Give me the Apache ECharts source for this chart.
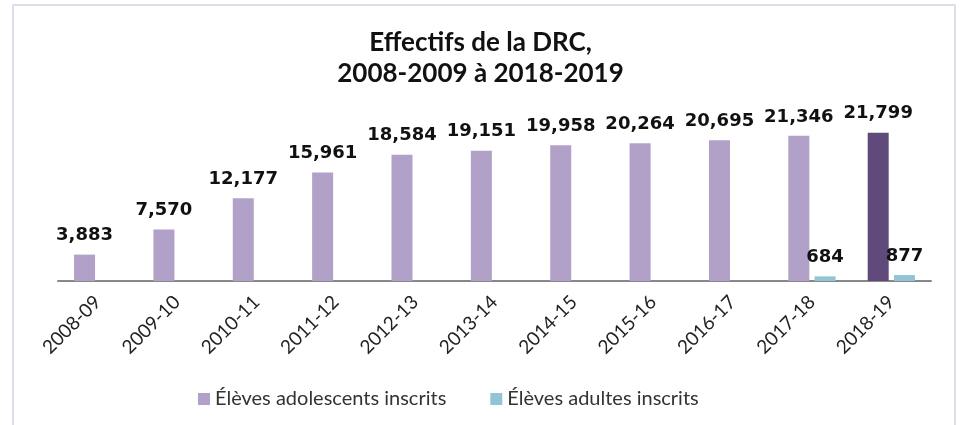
<!DOCTYPE html>
<html>
<head>
<meta charset="utf-8">
<script src="https://cdn.jsdelivr.net/npm/echarts@6/dist/echarts.min.js"></script>
<style>
  html,body{margin:0;padding:0;background:#fff;}
  #main{width:961px;height:425px;}
</style>
</head>
<body>
<div id="main"></div>
<script>
// annees scolaires
var categories = ['2008-09','2009-10','2010-11','2011-12','2012-13','2013-14','2014-15','2015-16','2016-17','2017-18','2018-19'];
// eleves adolescents
var adolescents = [3883, 7570, 12177, 15961, 18584, 19151, 19958, 20264, 20695, 21346, 21799];
// eleves adultes (seulement les 2 dernieres annees)
var adultes = [null, null, null, null, null, null, null, null, null, 684, 877];

var fmt = function(p){ return p.value == null ? '' : Number(p.value).toLocaleString('en-US'); };

var labelStyle = {
  show: true,
  position: 'top',
  distance: 10,
  fontFamily: 'DejaVu Sans',
  fontWeight: 'bold',
  fontSize: 18,
  color: '#111',
  formatter: fmt
};

// derniere barre en violet fonce
var adoData = adolescents.map(function(v, i){
  if (i == adolescents.length - 1) {
    return { value: v, itemStyle: { color: '#604a7b' } };
  }
  return v;
});

var myChart = echarts.init(document.getElementById('main'));
var option = {
  backgroundColor: '#fff',
  animation: false,
  graphic: [{
    type: 'rect',
    shape: { x: 13, y: 5, width: 942, height: 440 },
    style: { fill: 'none', stroke: '#e2dcea', lineWidth: 2 },
    silent: true
  }],
  title: {
    text: 'Effectifs de la DRC,\n2008-2009 à 2018-2019',
    left: 'center',
    top: 22,
    textStyle: {
      fontFamily: 'Lato',
      fontWeight: 'bold',
      fontSize: 26,
      lineHeight: 31,
      color: '#111'
    }
  },
  legend: {
    top: 384,
    left: 193,
    icon: 'rect',
    itemWidth: 12,
    itemHeight: 12,
    itemGap: 44,
    textStyle: { fontFamily: 'Lato', fontSize: 20, color: '#333' },
    data: ['Élèves adolescents inscrits', 'Élèves adultes inscrits']
  },
  grid: { left: 58, right: 30, top: 111, bottom: 144 },
  xAxis: {
    type: 'category',
    data: categories,
    axisTick: { show: false },
    axisLine: { lineStyle: { color: '#888', width: 2 } },
    axisLabel: {
      rotate: 45,
      margin: 18,
      fontFamily: 'Lato',
      fontSize: 19,
      color: '#222'
    }
  },
  yAxis: {
    type: 'value',
    min: 0,
    max: 25000,
    show: false,
    splitLine: { show: false }
  },
  series: [
    {
      name: 'Élèves adolescents inscrits',
      type: 'bar',
      barWidth: 21,
      barGap: '25%',
      itemStyle: { color: '#b1a0c7' },
      label: labelStyle,
      data: adoData
    },
    {
      name: 'Élèves adultes inscrits',
      type: 'bar',
      barWidth: 21,
      itemStyle: { color: '#93c4d5' },
      label: labelStyle,
      data: adultes
    }
  ]
};
myChart.setOption(option);
</script>
</body>
</html>
